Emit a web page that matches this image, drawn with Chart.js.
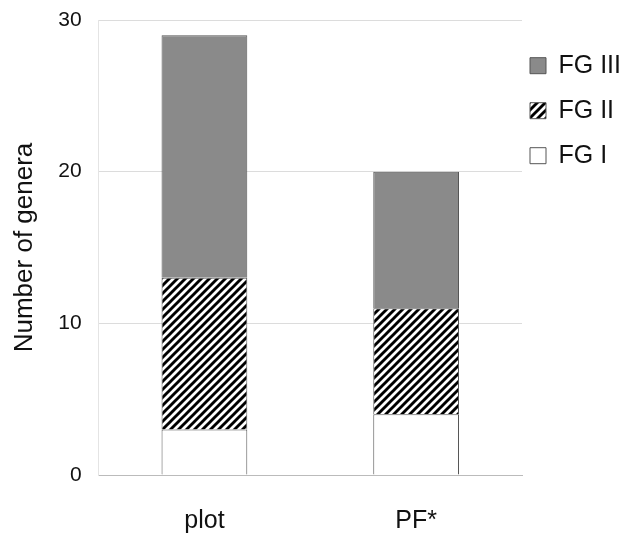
<!DOCTYPE html>
<html>
<head>
<meta charset="utf-8">
<script src="https://cdn.jsdelivr.net/npm/chart.js@4/dist/chart.umd.min.js"></script>
<style>
  html, body { margin: 0; padding: 0; background: #fff; }
  #wrap { width: 626px; height: 535px; }
</style>
</head>
<body>
<div id="wrap"><canvas id="myChart" width="626" height="535"></canvas></div>
<script>
// data
var categories = ['plot', 'PF*'];
var fgI = [3, 4];
var fgII = [10, 7];
var fgIII = [16, 9];
var yTicks = [0, 10, 20, 30];

// diagonal hatch for FG II
function hatch() {
    var c = document.createElement('canvas');
    c.width = 8; c.height = 8;
    var g = c.getContext('2d');
    g.fillStyle = '#fff';
    g.fillRect(0, 0, 8, 8);
    g.strokeStyle = '#000';
    g.lineWidth = 2.9;
    g.beginPath();
    for (var k = -1; k <= 1; k++) {
        g.moveTo(-2 + k * 8, 10);
        g.lineTo(10 + k * 8, -2);
    }
    g.stroke();
    return g.createPattern(c, 'repeat');
}

// pull the legend a bit closer to the plot
var legendShift = {
    id: 'legendShift',
    afterLayout: function (chart) {
        chart.legend.left -= 12;
        chart.legend.right -= 12;
    }
};

Chart.defaults.font.family = '"Liberation Sans", Arial, sans-serif';
Chart.defaults.color = '#111';

var ctx = document.getElementById('myChart').getContext('2d');
var chart = new Chart(ctx, {
    type: 'bar',
    data: {
        labels: categories,
        datasets: [
            { label: 'FG I', data: fgI, backgroundColor: '#ffffff', borderColor: '#555', borderWidth: 1 },
            { label: 'FG II', data: fgII, backgroundColor: hatch(), borderColor: '#555', borderWidth: 1 },
            { label: 'FG III', data: fgIII, backgroundColor: '#8a8a8a', borderColor: '#555', borderWidth: 1 }
        ]
    },
    plugins: [legendShift],
    options: {
        responsive: false,
        animation: false,
        layout: { padding: { top: 20, right: -17, left: 5, bottom: -1 } },
        datasets: { bar: { categoryPercentage: 1, barPercentage: 0.405 } },
        plugins: {
            tooltip: { enabled: false },
            legend: {
                position: 'right',
                align: 'start',
                reverse: true,
                title: { display: true, text: ' ', font: { size: 11 }, padding: 0 },
                labels: {
                    boxWidth: 16,
                    boxHeight: 16,
                    padding: 20,
                    color: '#111',
                    font: { size: 25 }
                }
            }
        },
        scales: {
            x: {
                stacked: true,
                grid: { display: true, drawOnChartArea: false, drawTicks: true, tickLength: 31, tickColor: 'transparent' },
                border: { color: '#bbb' },
                ticks: { font: { size: 25 }, padding: 0, color: '#111' }
            },
            y: {
                stacked: true,
                min: 0,
                max: 30,
                afterBuildTicks: function (axis) {
                    axis.ticks = yTicks.map(function (v) { return { value: v }; });
                },
                grid: { color: '#dcdcdc', drawTicks: true, tickLength: 16, tickColor: 'transparent' },
                border: { color: '#e4e4e4' },
                ticks: { font: { size: 21 }, padding: 1, color: '#111' },
                title: {
                    display: true,
                    text: 'Number of genera',
                    font: { size: 26 },
                    color: '#111',
                    padding: { bottom: 17 }
                }
            }
        }
    }
});
</script>
</body>
</html>
